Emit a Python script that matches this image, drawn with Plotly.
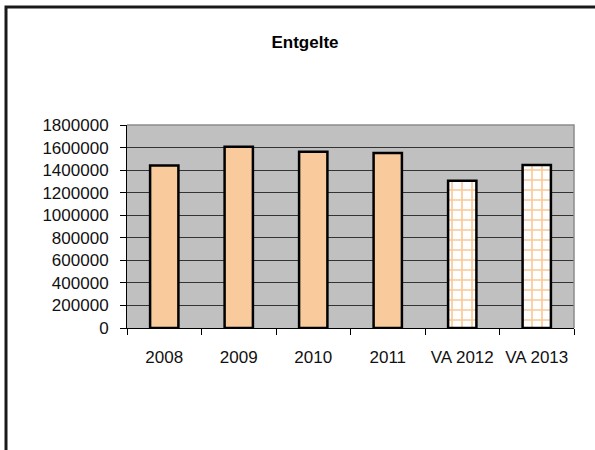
import plotly.graph_objects as go

# Entgelte per year; the last two years are forecasts (VA = Voranschlag)
categories = ["2008", "2009", "2010", "2011", "VA 2012", "VA 2013"]
values = [1440000, 1608000, 1562000, 1552000, 1306000, 1445000]
is_forecast = [False, False, False, False, True, True]
y_ticks = [0, 200000, 400000, 600000, 800000, 1000000, 1200000, 1400000, 1600000, 1800000]

PEACH = "#F9CB9C"
GRID_ORANGE = "#F9C896"
FONT = "Liberation Sans, Arial, sans-serif"

W, H = 595, 450
L, R, T, B = 127, 21, 125, 122
pw, ph = W - L - R, H - T - B

actual_x = [c for c, f in zip(categories, is_forecast) if not f]
actual_y = [v for v, f in zip(values, is_forecast) if not f]
plan_x = [c for c, f in zip(categories, is_forecast) if f]
plan_y = [v for v, f in zip(values, is_forecast) if f]

fig = go.Figure()
# actual values: solid peach bars
fig.add_trace(go.Bar(
    x=actual_x, y=actual_y,
    marker=dict(color=PEACH, line=dict(color="black", width=2.5)),
    hoverinfo="x+y",
))
# forecast values: white bars with an orange grid hatch
fig.add_trace(go.Bar(
    x=plan_x, y=plan_y,
    marker=dict(
        color=GRID_ORANGE,
        line=dict(color="black", width=2.5),
        pattern=dict(shape="+", fillmode="replace", bgcolor="white",
                     size=10, solidity=0.3),
    ),
    hoverinfo="x+y",
))


def px_x(px):
    return (px - L) / pw


def px_y(py):
    return (H - B - py) / ph


shapes = [
    # plot-area frame (grey, top and right)
    dict(type="path", xref="paper", yref="paper",
         path="M 0 1 L 1 1 L 1 0",
         line=dict(color="#8C8C8C", width=1.5), layer="above"),
    # outer chart frame (left and top edge)
    dict(type="path", xref="paper", yref="paper",
         path=f"M {px_x(6)} {px_y(460)} L {px_x(6)} {px_y(7)} L {px_x(600)} {px_y(7)}",
         line=dict(color="#1a1a1a", width=3), layer="above"),
]

fig.update_layout(
    width=W, height=H,
    margin=dict(l=L, r=R, t=T, b=B, pad=0),
    paper_bgcolor="white",
    plot_bgcolor="#C0C0C0",
    barmode="overlay",
    bargap=0.62,
    showlegend=False,
    font=dict(family=FONT, size=17, color="#111111"),
    title=dict(text="<b>Entgelte</b>", x=305 / W, xref="container", xanchor="center",
               y=1 - 42 / H, yref="container", yanchor="middle",
               font=dict(family=FONT, size=17, color="#000000")),
    shapes=shapes,
)

fig.update_xaxes(
    type="category", categoryorder="array", categoryarray=categories,
    showline=True, linecolor="black", linewidth=1,
    ticks="outside", tickson="boundaries", ticklen=6, tickcolor="black", tickwidth=1,
    showgrid=False, zeroline=False,
    tickfont=dict(family=FONT, size=17, color="#111111"),
    ticklabelstandoff=14,
)
fig.update_yaxes(
    range=[0, 1800000],
    tickvals=y_ticks,
    ticktext=[str(v) for v in y_ticks],
    showline=True, linecolor="black", linewidth=1,
    ticks="outside", ticklen=6, tickcolor="black", tickwidth=1,
    showgrid=True, gridcolor="#333333", gridwidth=1,
    zeroline=False,
    tickfont=dict(family=FONT, size=17, color="#111111"),
    ticklabelstandoff=8,
)

fig.write_html("out.html")
